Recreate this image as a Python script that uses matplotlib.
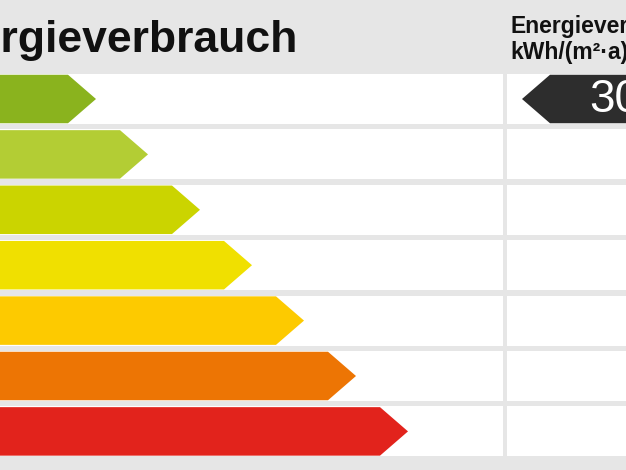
import numpy as np
import matplotlib.pyplot as plt
from matplotlib.patches import Polygon, Rectangle

# classes (left part of the label is cut off in the picture)
classes = ['A', 'B', 'C', 'D', 'E', 'F', 'G']
arrow_len = [1, 2, 3, 4, 5, 6, 7]
colors = ['#8ab31e', '#b3cd34', '#cbd400', '#f0e000', '#fdca00', '#ed7504', '#e2231c']
value_text = '30'
value_row = 0
title = 'Energieverbrauch'
col_header = ['Energieverbrauch', 'kWh/(m²·a)']

W, H = 626, 470
PX_X = 52.0      # px per arrow length unit
X0 = 44.0        # px position of length 0
PX_Y = 55.4      # px per row
Y0 = 99.0        # px center of first row

def ux(px):
    return (px - X0) / PX_X

def uy(px):
    return (px - Y0) / PX_Y

fig = plt.figure(figsize=(W / 100, H / 100), dpi=100)
fig.patch.set_facecolor('#e6e6e6')
ax = fig.add_axes([0, 0, 1, 1])
ax.set_xlim(ux(0), ux(W))
ax.set_ylim(uy(H), uy(0))
ax.set_axis_off()

half = 25 / PX_Y
slant = 28 / PX_X
split_l = ux(503)
split_r = ux(507)

for i, (n, c) in enumerate(zip(arrow_len, colors)):
    # white row backgrounds
    ax.add_patch(Rectangle((ux(-5), i - half), split_l - ux(-5), 2 * half,
                           facecolor='white', edgecolor='none'))
    ax.add_patch(Rectangle((split_r, i - half), ux(W + 5) - split_r, 2 * half,
                           facecolor='white', edgecolor='none'))
    h = half * 0.97
    pts = [(ux(-10), i - h), (n - slant, i - h), (n, i), (n - slant, i + h), (ux(-10), i + h)]
    ax.add_patch(Polygon(pts, closed=True, facecolor=c, edgecolor='none'))

# value marker in right column
tip = ux(522)
h = half * 0.97
pts = [(tip, value_row), (tip + slant, value_row - h), (ux(W + 20), value_row - h),
       (ux(W + 20), value_row + h), (tip + slant, value_row + h)]
ax.add_patch(Polygon(pts, closed=True, facecolor='#2d2d2d', edgecolor='none'))
ax.text(ux(589), value_row + 0.01, value_text, color='white', fontsize=33,
        family='Liberation Sans', ha='left', va='center')

fig.text(297 / W, 1 - 52 / H, title, fontsize=32, fontweight='bold',
         family='Liberation Sans', ha='right', va='baseline', color='#111111')
fig.text(510 / W, 1 - 32.5 / H, col_header[0], fontsize=16.5, fontweight='bold',
         family='Liberation Sans', ha='left', va='baseline', color='#111111')
fig.text(510 / W, 1 - 59.5 / H, col_header[1], fontsize=16.5, fontweight='bold',
         family='Liberation Sans', ha='left', va='baseline', color='#111111')

fig.savefig('out.png', dpi=100, facecolor=fig.get_facecolor())
